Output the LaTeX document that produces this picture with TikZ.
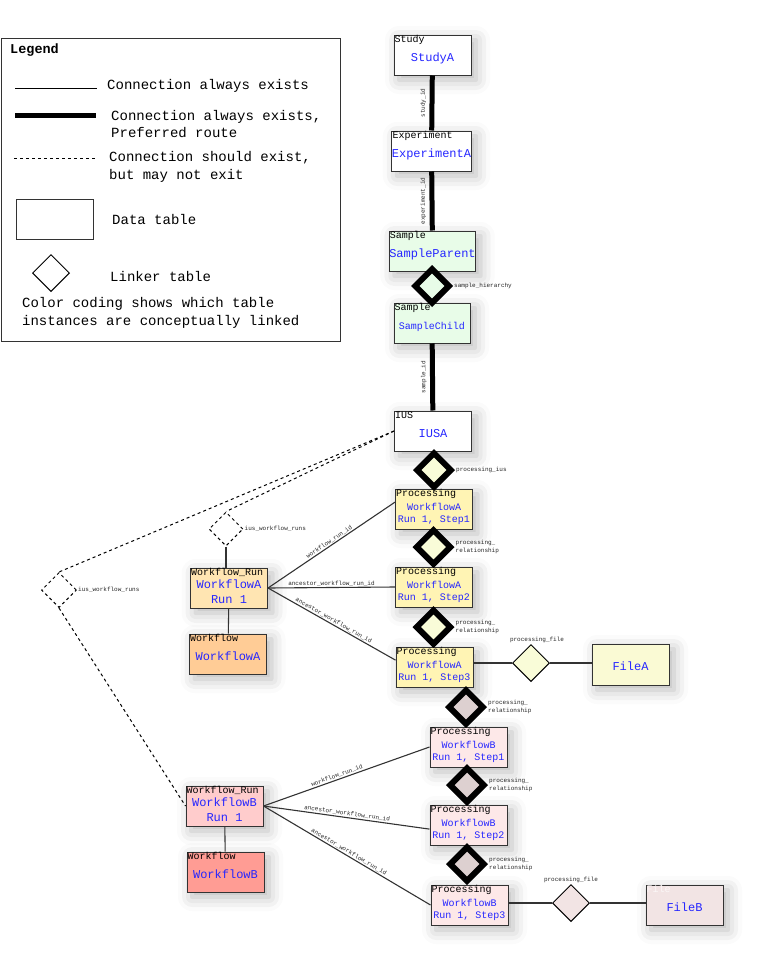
\documentclass[tikz,border=0pt]{standalone}
\usepackage{fontspec}
\setmainfont{Liberation Mono}
\usepackage{xcolor}
\usepackage{tikz}
\usetikzlibrary{positioning,shapes.geometric,shadows.blur}
\definecolor{NameBlue}{HTML}{2626FF}
\definecolor{EdgeGrey}{HTML}{333333}
\definecolor{SampleGreen}{HTML}{E8FCE8}
\definecolor{ProcYellow}{HTML}{FFF4B4}
\definecolor{LinkYellow}{HTML}{F9FCD8}
\definecolor{FileYellow}{HTML}{FAFAD4}
\definecolor{ProcPink}{HTML}{FDE8E8}
\definecolor{LinkPink}{HTML}{DDD0D0}
\definecolor{FilePink}{HTML}{F2E4E4}
\definecolor{RunOrange}{HTML}{FFE5B2}
\definecolor{FlowOrange}{HTML}{FFCC96}
\definecolor{RunRed}{HTML}{FFCCCC}
\definecolor{FlowRed}{HTML}{FF9C94}

\tikzset{
  tablebox/.style={draw=EdgeGrey, line width=1pt, minimum width=77pt, minimum height=40pt,
    inner sep=0pt, align=center, text=NameBlue, font=\fontsize{12}{14}\selectfont,
    text height=14pt, text depth=2pt,
    blur shadow={shadow xshift=5pt, shadow yshift=-5pt, shadow blur radius=14pt, shadow opacity=28}},
  procbox/.style={tablebox, font=\fontsize{10}{12}\selectfont, text height=29pt, text depth=2pt},
  runbox/.style={tablebox, font=\fontsize{12}{15}\selectfont, text height=31pt, text depth=0pt},
  typetag/.style={anchor=north west, inner sep=1pt, text=black, font=\fontsize{10}{10}\selectfont},
  linktag/.style={inner sep=1pt, text=black!85, align=left, font=\fontsize{6}{7.5}\selectfont},
  idtag/.style={linktag, rotate=90, anchor=south, inner sep=3.5pt},
  linker/.style={diamond, aspect=1, draw=black, line width=6pt, minimum size=36pt, inner sep=0pt},
  filelink/.style={diamond, aspect=1, draw=black, line width=1pt, minimum size=37pt, inner sep=0pt},
  runlink/.style={filelink, dashed, fill=white, minimum size=34pt},
  preferred/.style={line width=5pt},
  always/.style={line width=1.1pt, draw=EdgeGrey},
  maybe/.style={line width=1pt, dashed},
  legendtext/.style={anchor=west, align=left, inner sep=0pt, font=\fontsize{14}{17.5}\selectfont}
}

\begin{document}
\begin{tikzpicture}[x=1pt, y=-1pt, every node/.style={font=\fontsize{10}{12}\selectfont}]
\useasboundingbox (0,0) rectangle (758,961);

% legend
\node[draw=EdgeGrey, line width=1pt, minimum width=339pt, minimum height=303pt, anchor=north west] (legend) at (0.5,38) {};
\node[anchor=west, inner sep=0pt, font=\bfseries\fontsize{13.5}{15}\selectfont] (legtitle) at (10,50) {Legend};
\coordinate (thinA) at (15,88);  \coordinate (thinB) at (97,88);
\coordinate (thickA) at (15,115); \coordinate (thickB) at (96,115);
\coordinate (dashA) at (14,158); \coordinate (dashB) at (96,158);
\draw[line width=1pt] (thinA) -- (thinB);
\draw[preferred] (thickA) -- (thickB);
\draw[maybe] (dashA) -- (dashB);
\node[draw=EdgeGrey, line width=1pt, minimum width=77pt, minimum height=40pt] (legbox) at (54.5,219) {};
\node[filelink] (legdia) at (51,273) {};
\node[legendtext] (legthin) at (107,86) {Connection always exists};
\node[legendtext] (legthick) at (111,124) {Connection always exists,\\Preferred route};
\node[legendtext] (legdash) at (109,167) {Connection should exist,\\but may not exit};
\node[legendtext] (legdata) at (112,219) {Data table};
\node[legendtext] (leglink) at (110,276) {Linker table};
\node[legendtext] (legcolor) at (22,313) {Color coding shows which table\\instances are conceptually linked};

% data tables
\node[tablebox, fill=white, label={[typetag]north west:Study}] (study) at (432.5,55) {StudyA};
\node[tablebox, fill=white, label={[typetag]north west:Experiment}] (exp) at (431.5,151) {ExperimentA};
\node[tablebox, fill=SampleGreen, minimum width=81pt, label={[typetag]north west:Sample}] (sparent) at (432.5,251) {SampleParent};
\node[tablebox, fill=SampleGreen, minimum width=76pt, font=\fontsize{10}{12}\selectfont, label={[typetag]north west:Sample}] (schild) at (432,323) {SampleChild};
\node[tablebox, fill=white, label={[typetag]north west:IUS}] (ius) at (433,431) {IUSA};

\foreach \name/\x/\y/\col/\wf/\st in {pa1/434/509/ProcYellow/A/1, pa2/434/587/ProcYellow/A/2,
  pa3/434.5/667/ProcYellow/A/3, pb1/468.5/747/ProcPink/B/1, pb2/468.5/825/ProcPink/B/2,
  pb3/469.5/905/ProcPink/B/3}
{
  \node[procbox, fill=\col, label={[typetag]north west:Processing}] (\name) at (\x,\y) {Workflow\wf\\Run 1, Step\st};
}

\node[runbox, fill=RunOrange, label={[typetag]north west:Workflow\_Run}] (wra) at (229,588) {WorkflowA\\Run 1};
\node[tablebox, fill=FlowOrange, label={[typetag]north west:Workflow}] (wfa) at (228,654) {WorkflowA};
\node[runbox, fill=RunRed, label={[typetag]north west:Workflow\_Run}] (wrb) at (224.5,806) {WorkflowB\\Run 1};
\node[tablebox, fill=FlowRed, label={[typetag]north west:Workflow}] (wfb) at (225.5,872) {WorkflowB};
\node[tablebox, fill=FileYellow, minimum height=41pt] (filea) at (630.5,664.5) {FileA};
\node[tablebox, fill=FilePink, label={[typetag, text=white!70!FilePink]north west:File}] (fileb) at (684.5,905) {FileB};

% linker tables
\foreach \name/\x/\y/\col/\txt in {dsh/432/286/SampleGreen/{sample\_hierarchy},
  dpius/434/470/LinkYellow/{processing\_ius}, dpa12/433.5/547/LinkYellow/{processing\_\\relationship},
  dpa23/433.5/627/LinkYellow/{processing\_\\relationship}, dpab/466/707/LinkPink/{processing\_\\relationship},
  dpb12/467/785/LinkPink/{processing\_\\relationship}, dpb23/467/864/LinkPink/{processing\_\\relationship}}
{
  \node[linker, fill=\col, label={[linktag]east:\txt}] (\name) at (\x,\y) {};
}
\node[filelink, fill=LinkYellow, label={[linktag, xshift=6pt]above:processing\_file}] (dpfa) at (531,663) {};
\node[filelink, fill=FilePink, label={[linktag]above:processing\_file}] (dpfb) at (571,903) {};
\node[runlink, label={[linktag]east:ius\_workflow\_runs}] (diwa) at (226,529) {};
\node[runlink, minimum size=35pt, label={[linktag]east:ius\_workflow\_runs}] (diwb) at (59,590) {};

% connections
\draw[preferred] (study) -- node[idtag]{study\_id} (exp);
\draw[preferred] (exp) -- node[idtag]{experiment\_id} (sparent);
\draw[preferred] (schild) -- node[idtag]{sample\_id} (ius);

\draw[maybe] (ius.west) -- (diwa.north);
\draw[maybe] (ius.west) -- (diwb.north);
\draw[maybe] (diwb.south) -- (wrb.west);

\draw[always] (diwa.south) -- (diwa.south |- wra.north);
\draw[always] (wra) -- (wfa);
\draw[always] (wrb) -- (wfb);
\draw[always] (wra.east) -- node[linktag, sloped, above]{workflow\_run\_id} (pa1.170);
\draw[always] (wra.east) -- node[linktag, sloped, above]{ancestor\_workflow\_run\_id} (pa2.west);
\draw[always] (wra.east) -- node[linktag, sloped, above]{ancestor\_workflow\_run\_id} (pa3.170);
\draw[always] (wrb.east) -- node[linktag, sloped, above, pos=0.45]{workflow\_run\_id} (pb1.west);
\draw[always] (wrb.east) -- node[linktag, sloped, above]{ancestor\_workflow\_run\_id} (pb2.186);
\draw[always] (wrb.east) -- node[linktag, sloped, above]{ancestor\_workflow\_run\_id} (pb3.west);

\draw[always] (pa3.east |- dpfa) -- (dpfa);
\draw[always] (dpfa) -- (dpfa -| filea.west);
\draw[always] (pb3.east |- dpfb) -- (dpfb);
\draw[always] (dpfb) -- (dpfb -| fileb.west);
\end{tikzpicture}
\end{document}
